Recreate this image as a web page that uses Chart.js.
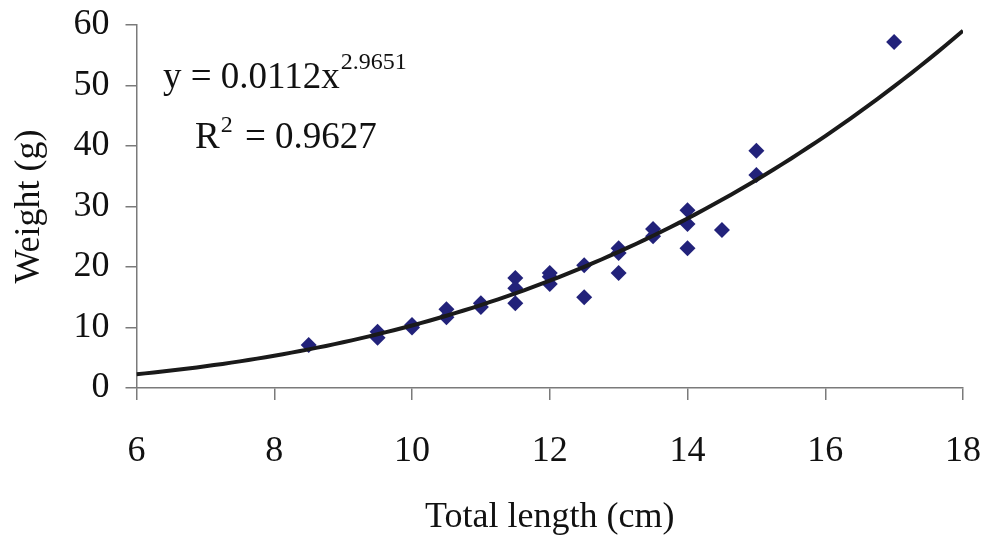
<!DOCTYPE html>
<html>
<head>
<meta charset="utf-8">
<script src="https://cdn.jsdelivr.net/npm/chart.js@4"></script>
<style>
  body { margin: 0; background: #fff; }
  #wrap { width: 985px; height: 539px; position: relative; }
</style>
</head>
<body>
<div id="wrap"><canvas id="lwChart"></canvas></div>
<script>
// length (cm) / weight (g) samples
const lengths = [8.5, 9.5, 9.5, 10, 10, 10.5, 10.5, 11, 11, 11.5, 11.5, 11.5,
  12, 12, 12, 12.5, 12.5, 13, 13, 13, 13.5, 13.5, 14, 14, 14, 14.5, 15, 15, 17];
const weights = [7.1, 9.3, 8.3, 10.4, 10.0, 13.0, 11.7, 14.0, 13.4, 18.2, 16.5, 14.0,
  19.0, 18.4, 17.2, 20.3, 15.0, 23.1, 22.3, 19.0, 26.3, 25.1, 29.4, 27.1, 23.1, 26.1, 39.2, 35.2, 57.2];

// power fit W = a * L^b
const fitA = 0.0112;
const fitB = 2.9651;
const fitR2 = 0.9627;

const xTicks = [6, 8, 10, 12, 14, 16, 18];
const yTicks = [0, 10, 20, 30, 40, 50, 60];

const serif = "'Liberation Serif', 'Times New Roman', serif";

const scatterPts = lengths.map((l, i) => ({ x: l, y: weights[i] }));
const fitPts = [];
for (let l = 6; l <= 18.0001; l += 0.25) {
  fitPts.push({ x: l, y: fitA * Math.pow(l, fitB) });
}

Chart.register({
  id: 'equationText',
  afterDraw(chart) {
    const ctx = chart.ctx;
    ctx.save();
    ctx.fillStyle = '#111';
    ctx.textBaseline = 'alphabetic';
    ctx.textAlign = 'left';
    ctx.font = `37px ${serif}`;
    const eq = `y = ${fitA}x`;
    ctx.fillText(eq, 163, 88);
    const w = ctx.measureText(eq).width;
    ctx.font = `24px ${serif}`;
    ctx.fillText(String(fitB), 164 + w, 69);

    ctx.font = `37px ${serif}`;
    ctx.fillText('R', 195, 148);
    const rw = ctx.measureText('R').width;
    ctx.font = `24px ${serif}`;
    ctx.fillText('2', 195 + rw + 1, 132);
    ctx.font = `37px ${serif}`;
    ctx.fillText(`= ${fitR2}`, 245, 148);
    ctx.restore();
  }
});

const ctx = document.getElementById('lwChart').getContext('2d');
new Chart(ctx, {
  type: 'scatter',
  data: {
    datasets: [
      {
        label: 'Fit',
        type: 'line',
        data: fitPts,
        borderColor: '#1a1a1a',
        borderWidth: 4,
        pointRadius: 0,
        fill: false,
        tension: 0.2,
        order: 0
      },
      {
        label: 'Samples',
        data: scatterPts,
        pointStyle: 'rectRot',
        pointRadius: 8,
        pointBackgroundColor: '#22227a',
        pointBorderColor: '#22227a',
        pointBorderWidth: 0,
        order: 1
      }
    ]
  },
  options: {
    responsive: true,
    maintainAspectRatio: false,
    animation: false,
    layout: { padding: 0 },
    plugins: {
      legend: { display: false },
      tooltip: { enabled: false }
    },
    scales: {
      x: {
        type: 'linear',
        min: 6,
        max: 18,
        afterFit(scale) {
          scale.height = 151;
          scale.paddingLeft = 0;
          scale.paddingRight = 22;
        },
        afterBuildTicks(scale) { scale.ticks = xTicks.map(v => ({ value: v })); },
        grid: { drawOnChartArea: false, tickLength: 12, color: '#7a7a7a', lineWidth: 1.5 },
        border: { color: '#7a7a7a', width: 1.5 },
        ticks: {
          color: '#111',
          padding: 30,
          maxRotation: 0,
          font: { family: serif, size: 36 }
        },
        title: {
          display: true,
          text: 'Total length (cm)',
          color: '#111',
          padding: { top: 0, bottom: 0 },
          font: { family: serif, size: 36 }
        }
      },
      y: {
        type: 'linear',
        min: 0,
        max: 60,
        afterFit(scale) {
          scale.width = 136.5;
          scale.paddingTop = 25;
          scale.paddingBottom = 0;
        },
        afterBuildTicks(scale) { scale.ticks = yTicks.map(v => ({ value: v })); },
        grid: { drawOnChartArea: false, tickLength: 11, color: '#7a7a7a', lineWidth: 1.5 },
        border: { color: '#7a7a7a', width: 1.5 },
        ticks: {
          color: '#111',
          padding: 16,
          font: { family: serif, size: 36 }
        },
        title: {
          display: true,
          text: 'Weight (g)',
          color: '#111',
          padding: { top: 8, bottom: 0 },
          font: { family: serif, size: 36 }
        }
      }
    }
  }
});
</script>
</body>
</html>
